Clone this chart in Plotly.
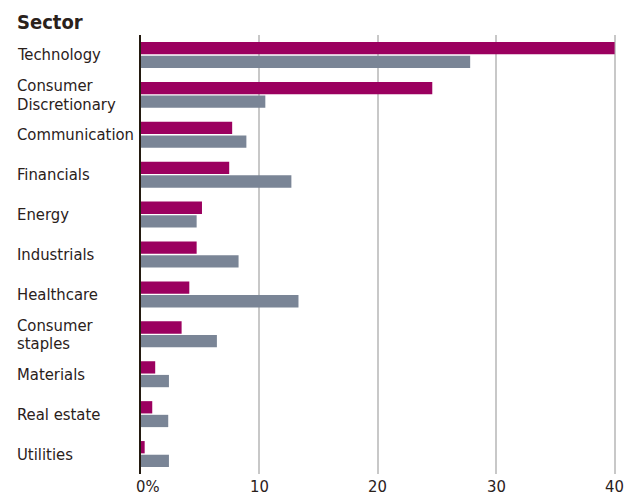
import plotly.graph_objects as go

sectors = ["Technology", "Consumer\nDiscretionary", "Communication", "Financials", "Energy",
           "Industrials", "Healthcare", "Consumer\nstaples", "Materials", "Real estate", "Utilities"]
series_a = [40.0, 24.6, 7.7, 7.45, 5.15, 4.7, 4.08, 3.43, 1.2, 0.95, 0.31]
series_b = [27.8, 10.5, 8.9, 12.7, 4.7, 8.24, 13.3, 6.41, 2.36, 2.3, 2.36]
tick_vals = [0, 10, 20, 30, 40]
tick_text = ["0%", "10", "20", "30", "40"]

MAGENTA = "#9b005f"
GRAY = "#7a8596"
TEXT = "#2a211b"
FONT = "DejaVu Sans Condensed, Liberation Sans, sans-serif"
FS = 16.5

W, H = 628, 503
L, R, T, B = 141, 11, 35, 29
plot_w = W - L - R

fig = go.Figure()
fig.add_trace(go.Bar(y=sectors, x=series_a, orientation="h", marker=dict(color=MAGENTA, line=dict(width=0)),
                     showlegend=False, hoverinfo="x+y"))
fig.add_trace(go.Bar(y=sectors, x=series_b, orientation="h", marker=dict(color=GRAY, line=dict(width=0)),
                     showlegend=False, hoverinfo="x+y"))

annotations = []
# category labels, left-aligned, tight line spacing
lab_x = -(L - 15) / plot_w
for s in sectors:
    lines = s.split("\n")
    n = len(lines)
    for i, ln in enumerate(lines):
        shift = (((n - 1) / 2) - i) * 18.4
        annotations.append(dict(x=lab_x, xref="paper", y=s, yref="y", text=ln, showarrow=False,
                                xanchor="left", yanchor="middle", yshift=shift,
                                font=dict(family=FONT, size=FS, color=TEXT)))
# x tick labels
for v, t in zip(tick_vals, tick_text):
    if t.endswith("%"):
        annotations.append(dict(x=v, xref="x", y=0, yref="paper", text=t, showarrow=False,
                                xanchor="left", yanchor="top", xshift=-7, yshift=-1,
                                font=dict(family=FONT, size=FS, color=TEXT)))
    else:
        annotations.append(dict(x=v, xref="x", y=0, yref="paper", text=t, showarrow=False,
                                xanchor="center", yanchor="top", yshift=-1,
                                font=dict(family=FONT, size=FS, color=TEXT)))

fig.update_layout(
    width=W, height=H,
    margin=dict(l=L, r=R, t=T, b=B, pad=0),
    paper_bgcolor="white", plot_bgcolor="white",
    barmode="group", bargap=0.315, bargroupgap=0.1,
    title=dict(text="<b>Sector</b>", x=17 / W, xref="container", xanchor="left",
               y=1 - 15 / H, yref="container", yanchor="top",
               font=dict(family="DejaVu Sans Condensed, Liberation Sans, sans-serif", size=20, color=TEXT)),
    xaxis=dict(range=[0, 40.2], tickvals=tick_vals, showticklabels=False, showgrid=True,
               gridcolor="#c8c8c8", gridwidth=1.5, zeroline=False, showline=False, ticks=""),
    yaxis=dict(autorange="reversed", showticklabels=False, showgrid=False, zeroline=False,
               showline=True, linecolor="#231a10", linewidth=2, ticks=""),
    annotations=annotations,
)
fig.write_html("out.html")
